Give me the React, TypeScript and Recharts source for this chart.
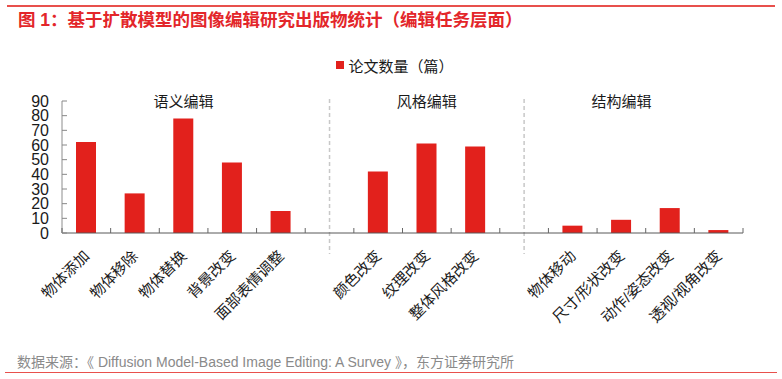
import React from 'react';
import { BarChart, Bar, XAxis, YAxis, ReferenceLine } from 'recharts';

const categories = [
  '物体添加', '物体移除', '物体替换', '背景改变', '面部表情调整', '',
  '颜色改变', '纹理改变', '整体风格改变', '',
  '物体移动', '尺寸/形状改变', '动作/姿态改变', '透视/视角改变',
];
const paperCounts = [62, 27, 78, 48, 15, null, 42, 61, 59, null, 5, 9, 17, 2];
const yTicks = [0, 10, 20, 30, 40, 50, 60, 70, 80, 90];
const groupNames = ['语义编辑', '风格编辑', '结构编辑'];
const groupCenterIdx = [2, 7, 11];
const separatorIdx = [5, 9];
const seriesName = '论文数量（篇）';
const titleText = '图 1：基于扩散模型的图像编辑研究出版物统计（编辑任务层面）';
const sourceText = '数据来源：《 Diffusion Model-Based Image Editing: A Survey 》，东方证券研究所';

const data = categories.map((c, i) => ({ key: `k${i}`, label: c, value: paperCounts[i] }));

const W = 782;
const H = 379;
const X_AXIS_H = 30;
const MARGIN = { top: 101, right: 39, bottom: 146 - X_AXIS_H, left: 0 };
const Y_AXIS_W = 62;
const BAND = (W - MARGIN.right - MARGIN.left - Y_AXIS_W) / categories.length;
const FONT = '"Liberation Sans", Arial, "Noto Sans CJK SC", sans-serif';
const RED = '#E2211C';

const XTick = (props: any) => {
  const { x, y, payload } = props;
  const idx = data.findIndex((d) => d.key === payload.value);
  const label = idx >= 0 ? data[idx].label : '';
  const half = BAND / 2;
  const ax = x + 4;
  const ay = y + 24;
  return (
    <g>
      <line x1={x - half} x2={x - half} y1={y} y2={y - 5} stroke="#666" strokeWidth={1} />
      {idx === data.length - 1 && (
        <line x1={x + half} x2={x + half} y1={y} y2={y - 5} stroke="#666" strokeWidth={1} />
      )}
      {label && (
        <text
          x={ax}
          y={ay}
          transform={`rotate(-45 ${ax} ${ay})`}
          textAnchor="end"
          fontSize={15}
          fontFamily={FONT}
          fill="#1a1a1a"
        >
          {label}
        </text>
      )}
    </g>
  );
};

const YTick = (props: any) => {
  const { x, y, payload } = props;
  return (
    <g>
      <line x1={x + 13} x2={x + 18} y1={y} y2={y} stroke="#888" strokeWidth={1} />
      <text
        x={x}
        y={y}
        textAnchor="end"
        dominantBaseline="central"
        fontSize={16}
        fontFamily={FONT}
        fill="#1a1a1a"
      >
        {payload.value}
      </text>
    </g>
  );
};

const SepLine = (p: any) => (
  <line
    x1={p.x1}
    x2={p.x2}
    y1={Math.min(p.y1, p.y2) - 2}
    y2={Math.max(p.y1, p.y2) + 21}
    stroke="#c8c8c8"
    strokeWidth={1.5}
    strokeDasharray="4 3"
  />
);

const groupLabel = (text: string) => (props: any) => {
  const vb = props.viewBox || {};
  return (
    <text
      x={vb.x}
      y={vb.y}
      textAnchor="middle"
      dominantBaseline="central"
      fontSize={15}
      fontFamily={FONT}
      fill="#1a1a1a"
    >
      {text}
    </text>
  );
};

export default function App() {
  return (
    <div
      style={{
        position: 'absolute',
        left: 0,
        top: 0,
        width: W,
        height: H,
        background: '#fff',
        fontFamily: FONT,
        overflow: 'hidden',
      }}
    >
      <div style={{ position: 'absolute', left: 7, top: 5, width: 768, height: 1.5, background: '#E8504C' }} />
      <div
        style={{
          position: 'absolute',
          left: 18,
          top: 10,
          lineHeight: '20px',
          fontSize: 17.5,
          fontWeight: 'bold',
          color: '#E3262A',
          whiteSpace: 'nowrap',
        }}
      >
        {titleText}
      </div>
      <div
        style={{
          position: 'absolute',
          left: 0,
          top: 55,
          width: W,
          display: 'flex',
          justifyContent: 'center',
          alignItems: 'center',
          height: 20,
          fontSize: 15,
          color: '#1a1a1a',
        }}
      >
        <span style={{ display: 'inline-block', width: 8, height: 8, background: RED, marginRight: 4, marginLeft: 8 }} />
        <span>{seriesName}</span>
      </div>
      <div style={{ position: 'absolute', left: 0, top: 0 }}>
        <BarChart width={W} height={H} data={data} margin={MARGIN} barCategoryGap="20%">
          <XAxis
            dataKey="key"
            height={X_AXIS_H}
            interval={0}
            tickLine={false}
            tickSize={0}
            tickMargin={0}
            axisLine={{ stroke: '#595959', strokeWidth: 1 }}
            tick={<XTick />}
          />
          <YAxis
            width={Y_AXIS_W}
            domain={[0, 90]}
            ticks={yTicks}
            interval={0}
            tickLine={false}
            tickSize={0}
            tickMargin={13}
            axisLine={{ stroke: '#8c8c8c', strokeWidth: 1 }}
            tick={<YTick />}
          />
          {separatorIdx.map((i) => (
            <ReferenceLine key={`sep${i}`} x={data[i].key} shape={SepLine} />
          ))}
          {groupNames.map((g, j) => (
            <ReferenceLine
              key={`grp${j}`}
              x={data[groupCenterIdx[j]].key}
              stroke="none"
              label={groupLabel(g)}
            />
          ))}
          <Bar dataKey="value" name={seriesName} fill={RED} barSize={20} isAnimationActive={false} />
        </BarChart>
      </div>
      <div
        style={{
          position: 'absolute',
          left: 17,
          top: 353,
          lineHeight: '18px',
          fontSize: 14,
          color: '#8a8a8a',
          whiteSpace: 'nowrap',
        }}
      >
        {sourceText}
      </div>
      <div style={{ position: 'absolute', left: 5, top: 371.5, width: 772, height: 1.5, background: '#E8504C' }} />
    </div>
  );
}
